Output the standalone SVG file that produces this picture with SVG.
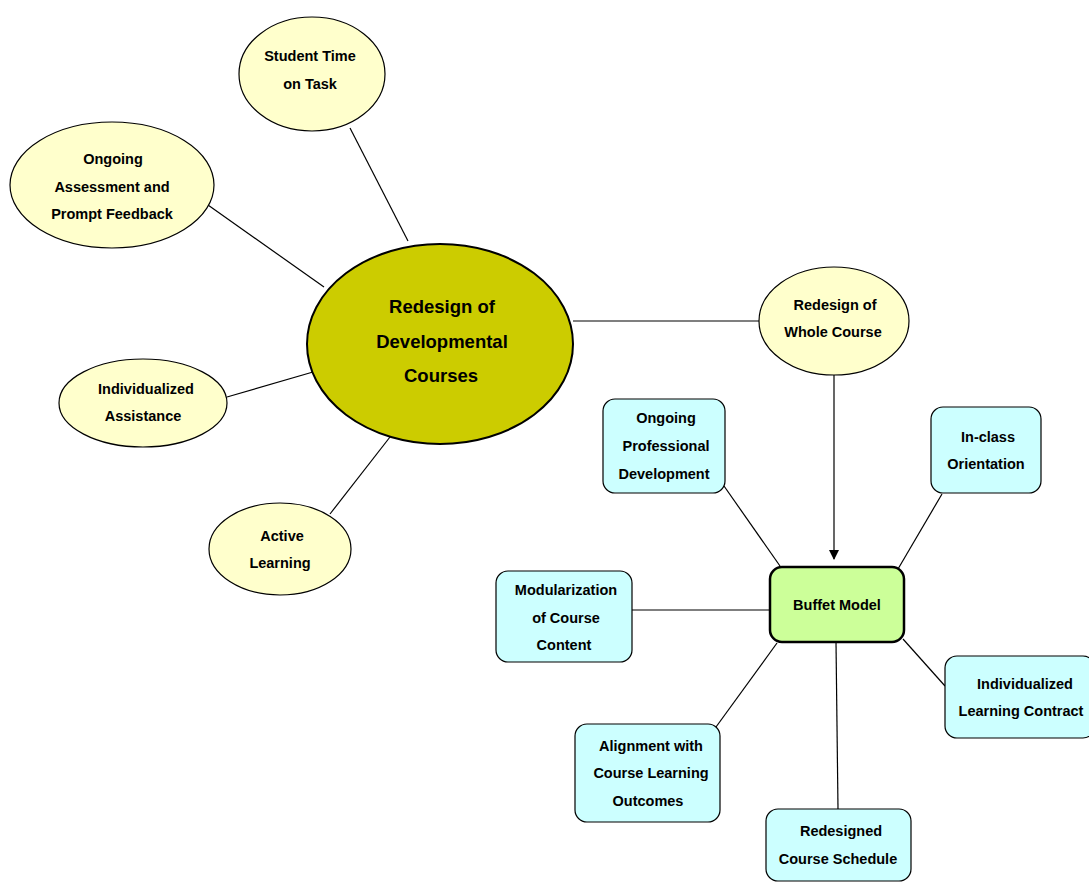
<svg xmlns="http://www.w3.org/2000/svg" width="1089" height="882" viewBox="0 0 1089 882">
<style>
.y{fill:#ffffcc;stroke:#000;stroke-width:1.2}
.c{fill:#ccffff;stroke:#000;stroke-width:1.2}
.t{font-family:"Liberation Sans",Arial,sans-serif;font-weight:bold;font-size:14.5px;fill:#000;text-anchor:middle}
.big{font-size:18.5px}
.ln{stroke:#000;stroke-width:1.2;fill:none}
</style>
<defs>
<marker id="ah" viewBox="0 0 10 10" refX="9" refY="5" markerWidth="10" markerHeight="12" markerUnits="userSpaceOnUse" orient="auto">
<path d="M0,0 L10,5 L0,10 Z" fill="#000"/>
</marker>
</defs>
<rect width="1089" height="882" fill="#fff"/>
<g id="connectors">
<line class="ln" x1="350" y1="128" x2="408" y2="241"/>
<line class="ln" x1="208" y1="205" x2="324" y2="287"/>
<line class="ln" x1="227" y1="397" x2="313" y2="372"/>
<line class="ln" x1="330" y1="514" x2="390" y2="437"/>
<line class="ln" x1="573" y1="321" x2="759" y2="321"/>
<line class="ln" x1="834" y1="375" x2="834" y2="559" marker-end="url(#ah)"/>
<line class="ln" x1="724" y1="486" x2="780" y2="566"/>
<line class="ln" x1="942" y1="494" x2="898" y2="569"/>
<line class="ln" x1="632" y1="610" x2="770" y2="610"/>
<line class="ln" x1="903" y1="639" x2="945" y2="686"/>
<line class="ln" x1="716" y1="727" x2="777" y2="643"/>
<line class="ln" x1="836" y1="642" x2="838" y2="809"/>
</g>
<g id="student-time">
<ellipse class="y" cx="312" cy="74" rx="73" ry="57"/>
<text class="t" x="310" y="61">Student Time</text>
<text class="t" x="310" y="89">on Task</text>
</g>
<g id="ongoing-assessment">
<ellipse class="y" cx="112" cy="185" rx="102" ry="63"/>
<text class="t" x="113" y="164">Ongoing</text>
<text class="t" x="112" y="192">Assessment and</text>
<text class="t" x="112" y="219">Prompt Feedback</text>
</g>
<g id="central">
<ellipse cx="440" cy="344" rx="133" ry="100" fill="#cccc00" stroke="#000" stroke-width="2"/>
<text class="t big" x="442" y="313">Redesign of</text>
<text class="t big" x="442" y="348">Developmental</text>
<text class="t big" x="441" y="382">Courses</text>
</g>
<g id="individualized-assistance">
<ellipse class="y" cx="143" cy="403" rx="84" ry="44"/>
<text class="t" x="146" y="394">Individualized</text>
<text class="t" x="143" y="421">Assistance</text>
</g>
<g id="active-learning">
<ellipse class="y" cx="280" cy="549" rx="71" ry="46"/>
<text class="t" x="282" y="541">Active</text>
<text class="t" x="280" y="568">Learning</text>
</g>
<g id="redesign-whole">
<ellipse class="y" cx="834" cy="321" rx="75" ry="54"/>
<text class="t" x="835" y="310">Redesign of</text>
<text class="t" x="833" y="337">Whole Course</text>
</g>
<g id="ongoing-prof">
<rect class="c" x="603" y="399" width="122" height="94" rx="12"/>
<text class="t" x="666" y="423">Ongoing</text>
<text class="t" x="666" y="451">Professional</text>
<text class="t" x="664" y="479">Development</text>
</g>
<g id="in-class">
<rect class="c" x="931" y="407" width="110" height="86" rx="12"/>
<text class="t" x="988" y="442">In-class</text>
<text class="t" x="986" y="469">Orientation</text>
</g>
<g id="buffet">
<rect x="770" y="567" width="134" height="75" rx="12" fill="#ccff99" stroke="#000" stroke-width="2.5"/>
<text class="t" x="837" y="610">Buffet Model</text>
</g>
<g id="modularization">
<rect class="c" x="496" y="571" width="136" height="91" rx="12"/>
<text class="t" x="566" y="595">Modularization</text>
<text class="t" x="566" y="623">of Course</text>
<text class="t" x="564" y="650">Content</text>
</g>
<g id="learning-contract">
<rect class="c" x="945" y="656" width="150" height="82" rx="12"/>
<text class="t" x="1025" y="689">Individualized</text>
<text class="t" x="1021" y="716">Learning Contract</text>
</g>
<g id="alignment">
<rect class="c" x="575" y="724" width="145" height="98" rx="12"/>
<text class="t" x="651" y="751">Alignment with</text>
<text class="t" x="651" y="778">Course Learning</text>
<text class="t" x="648" y="806">Outcomes</text>
</g>
<g id="schedule">
<rect class="c" x="766" y="809" width="145" height="72" rx="12"/>
<text class="t" x="841" y="836">Redesigned</text>
<text class="t" x="838" y="864">Course Schedule</text>
</g>
</svg>
